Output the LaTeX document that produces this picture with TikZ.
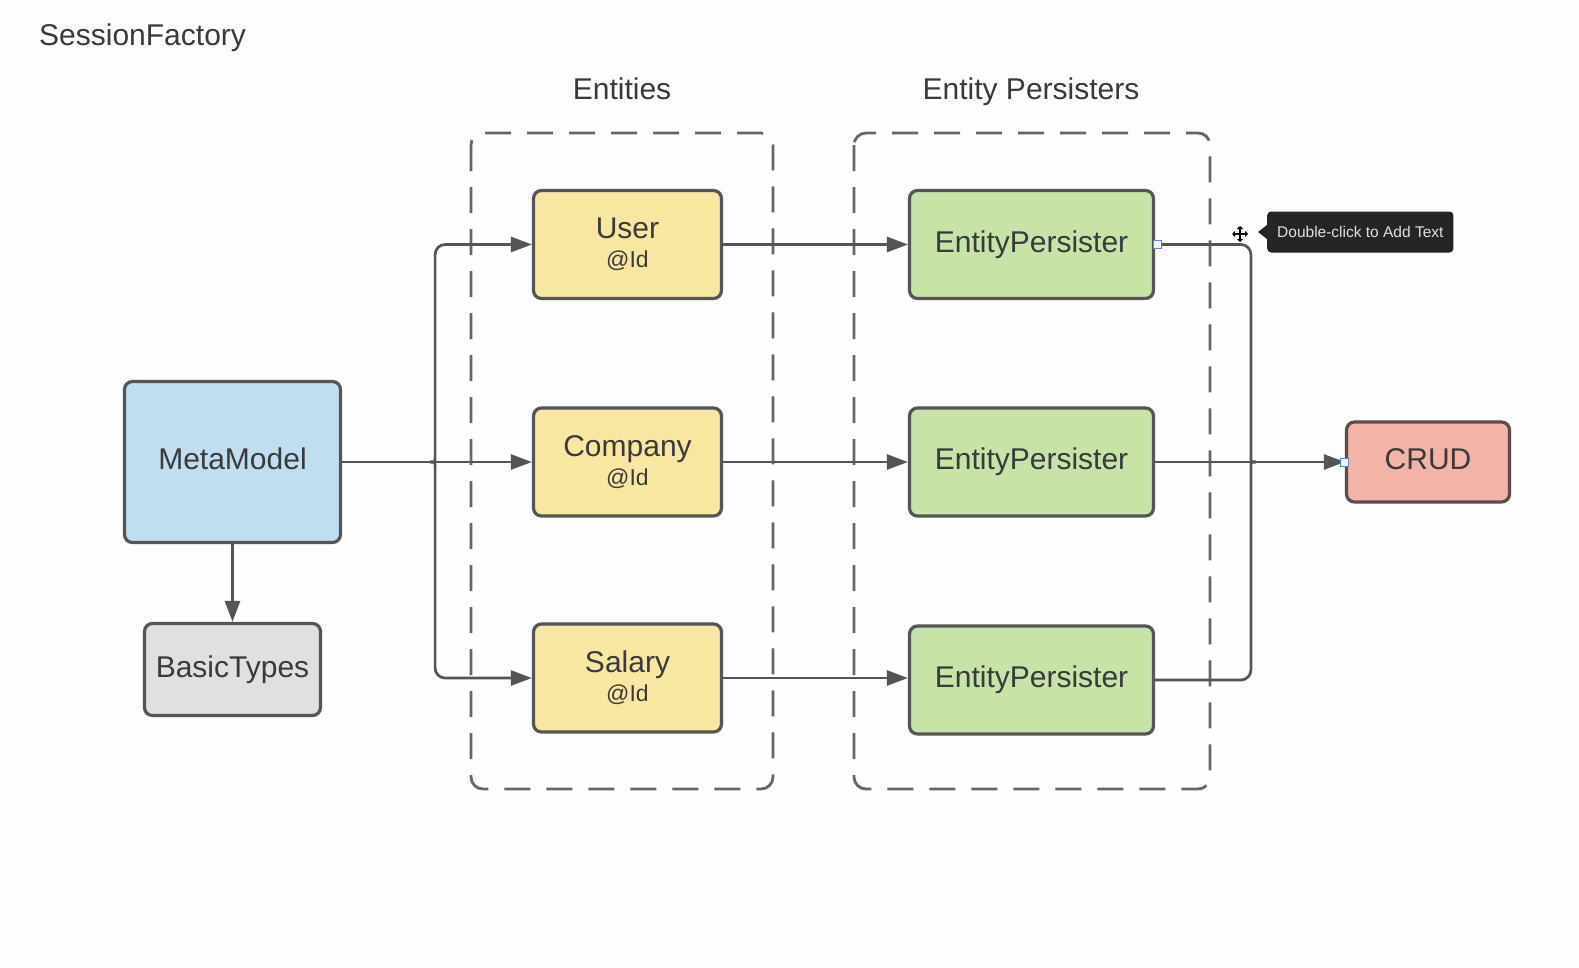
\documentclass[tikz,border=0pt]{standalone}
\usepackage{fontspec}
\setmainfont{Liberation Sans}
\usetikzlibrary{arrows.meta,calc}

\definecolor{paper}{HTML}{FDFDFD}
\definecolor{ink}{HTML}{3A3A3A}
\definecolor{edge}{HTML}{555555}
\definecolor{metablue}{HTML}{C1DDF2}
\definecolor{basicgray}{HTML}{E0E0E0}
\definecolor{entyellow}{HTML}{F9E6A2}
\definecolor{persgreen}{HTML}{C6E3A8}
\definecolor{crudred}{HTML}{F2B3A8}
\definecolor{crudedge}{HTML}{5E4C4A}
\definecolor{tipdark}{HTML}{232526}
\definecolor{handleblue}{HTML}{4A90D9}

\newcommand\idfont{\fontsize{23}{26}\selectfont}

\begin{document}
\begin{tikzpicture}[x=1pt,y=-1pt,
  box/.style={draw=edge, line width=3.2pt, rounded corners=8pt, text=ink,
    font=\fontsize{30}{32}\selectfont, inner sep=0pt, align=center},
  entbox/.style={box, fill=entyellow, minimum width=188pt, minimum height=108pt},
  persbox/.style={box, fill=persgreen, minimum width=244pt, minimum height=108pt},
  title/.style={text=ink, font=\fontsize{30}{32}\selectfont, inner sep=0pt},
  conn/.style={draw=edge, line width=2.7pt, -{Triangle[length=21pt,width=15pt]}},
  wire/.style={draw=edge, line width=2.7pt},
  group/.style={draw=edge!90, line width=2.8pt, dash pattern=on 26pt off 16pt,
    rounded corners=12pt},
  handle/.style={draw=handleblue, fill=blue!5, line width=1pt,
    minimum size=8pt, inner sep=0pt}
]
\useasboundingbox[fill=paper] (0,0) rectangle (1579,967);

% headings
\node[title, anchor=base west] (sf) at (39,45) {SessionFactory};
\node[title, anchor=base] (entlabel) at (622,99) {Entities};
\node[title, anchor=base] (perslabel) at (1031,99) {Entity Persisters};

% dashed groups
\draw[group] (471,133) rectangle (773,789);
\draw[group] (854,133) rectangle (1210,789);

% model boxes
\node[box, fill=metablue, minimum width=216pt, minimum height=161pt] (meta) at (232.5,462) {\raisebox{7pt}{MetaModel}};
\node[box, fill=basicgray, minimum width=176pt, minimum height=92pt] (basic) at (232.5,669.5) {\raisebox{3pt}{BasicTypes}};

% entities
\node[entbox] (user) at (627.5,244.5) {User\\[-3pt]{\idfont @Id}};
\node[entbox] (company) at (627.5,462) {Company\\[-3pt]{\idfont @Id}};
\node[entbox] (salary) at (627.5,678) {Salary\\[-3pt]{\idfont @Id}};

% persisters
\node[persbox] (ep1) at (1031.5,244.5) {\raisebox{3pt}{EntityPersister}};
\node[persbox] (ep2) at (1031.5,462) {\raisebox{3pt}{EntityPersister}};
\node[persbox] (ep3) at (1031.5,680) {\raisebox{3pt}{EntityPersister}};

% CRUD
\node[box, draw=crudedge, fill=crudred, minimum width=163pt, minimum height=80pt] (crud) at (1428,462) {\raisebox{5pt}{CRUD}};

% junction points of the fan-out and fan-in
\coordinate (jx) at ($(meta.east)+(93,0)$);
\coordinate (kx) at ($(crud.west)+(-94,0)$);

% MetaModel to entities
\draw[conn] (meta.south) -- (basic.north);
\draw[conn] (meta.east) -- (company.west);
\draw[conn] ([xshift=-5pt]jx) .. controls (jx) .. ([yshift=5pt]jx)
  [rounded corners=10pt] -- (jx |- user.west) -- (user.west);
\draw[conn] ([xshift=-5pt]jx) .. controls (jx) .. ([yshift=-5pt]jx)
  [rounded corners=10pt] -- (jx |- salary.west) -- (salary.west);

% entities to persisters
\draw[conn] (user.east) -- (user.east -| ep1.west);
\draw[conn] (company.east) -- (company.east -| ep2.west);
\draw[conn] (salary.east) -- (salary.east -| ep3.west);

% persisters to CRUD
\draw[conn] (ep2.east) -- (crud.west);
\draw[wire, rounded corners=10pt] (ep1.east) -- (kx |- ep1.east) -- ([yshift=5pt]kx);
\draw[wire] ([yshift=5pt]kx) .. controls (kx) .. ([xshift=5pt]kx);
\draw[wire, rounded corners=10pt] (ep3.east) -- (kx |- ep3.east) -- ([yshift=-5pt]kx);
\draw[wire] ([yshift=-5pt]kx) .. controls (kx) .. ([xshift=5pt]kx);

% selection handles
\node[handle] (h1) at ([xshift=2pt]ep1.east) {};
\node[handle] (h2) at (crud.west) {};

% move cursor
\coordinate (cur) at (1240,234);
\draw[line width=1.8pt, black, {Triangle[length=3pt,width=6pt]}-{Triangle[length=3pt,width=6pt]}]
  ([xshift=-8pt]cur) -- ([xshift=8pt]cur);
\draw[line width=1.8pt, black, {Triangle[length=3pt,width=6pt]}-{Triangle[length=3pt,width=6pt]}]
  ([yshift=-8pt]cur) -- ([yshift=8pt]cur);

% tooltip
\node[fill=tipdark, rounded corners=4pt, text=white!88!black, inner xsep=10pt,
  minimum height=41pt, font=\fontsize{15.5}{17}\selectfont, anchor=west] (tip) at (1267,232) {Double-click to Add Text};
\fill[tipdark] ([yshift=7pt]tip.west) -- ++(-9,7) -- ++(9,7) -- cycle;
\end{tikzpicture}
\end{document}
